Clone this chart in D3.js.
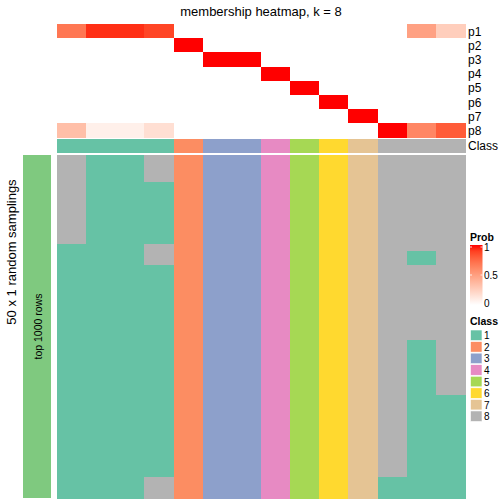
<!DOCTYPE html>
<html><head><meta charset="utf-8">
<script src="https://cdn.jsdelivr.net/npm/d3@7"></script>
<style>body{margin:0;background:#fff}svg{display:block;font-family:"Liberation Sans",Arial,sans-serif}</style>
</head><body>
<svg id="c" width="504" height="504"></svg>
<script>
// ---- data ----
const columns = d3.range(1, 15).map(i => "s" + i);
const probRows = ["p1","p2","p3","p4","p5","p6","p7","p8"];
const p1 = [0.69,0.94,0.94,0.88,0,0,0,0,0,0,0,0,0.49,0.26];
const p2 = [0,0,0,0,1,0,0,0,0,0,0,0,0,0];
const p3 = [0,0,0,0,0,1,1,0,0,0,0,0,0,0];
const p4 = [0,0,0,0,0,0,0,1,0,0,0,0,0,0];
const p5 = [0,0,0,0,0,0,0,0,1,0,0,0,0,0];
const p6 = [0,0,0,0,0,0,0,0,0,1,0,0,0,0];
const p7 = [0,0,0,0,0,0,0,0,0,0,1,0,0,0];
const p8 = [0.34,0.08,0.08,0.17,0,0,0,0,0,0,0,1,0.62,0.80];
const classOf = [1,1,1,1,2,3,3,4,5,6,7,8,8,8];
const classes = [1,2,3,4,5,6,7,8];
const classColors = ["#66C2A5","#FC8D62","#8DA0CB","#E78AC3","#A6D854","#FFD92F","#E5C494","#B3B3B3"];
// sampling runs per column: [class, number of rows], top to bottom, 50 rows total
const samplingRuns = [
  [[8,13],[1,37]],
  [[1,50]],
  [[1,50]],
  [[8,4],[1,9],[8,3],[1,31],[8,3]],
  [[2,50]],
  [[3,50]],
  [[3,50]],
  [[4,50]],
  [[5,50]],
  [[6,50]],
  [[7,50]],
  [[8,47],[1,3]],
  [[8,14],[1,2],[8,11],[1,23]],
  [[8,35],[1,15]]
];
const nSamplings = 50;
const probTicks = [0, 0.5, 1];

// ---- drawing ----
const svg = d3.select("#c");
const probData = [p1,p2,p3,p4,p5,p6,p7,p8];
const x = d3.scaleBand().domain(columns).range([57, 465]);
const yTop = d3.scaleBand().domain(probRows).range([24, 137.5]);
const yBot = d3.scaleBand().domain(d3.range(nSamplings)).range([155, 498]);
const probColor = d3.scaleLinear().domain([0,1]).range(["#ffffff","#ff0000"]).interpolate(d3.interpolateLab);
const classColor = d3.scaleOrdinal().domain(classes).range(classColors);

// title
svg.append("text").attr("x", 261).attr("y", 16).attr("text-anchor","middle")
  .attr("font-size", 13).text("membership heatmap, k = 8");

// prob rows
const probCells = [];
probRows.forEach((r, i) => columns.forEach((c, j) => probCells.push({r, c, v: probData[i][j]})));
svg.append("g").attr("shape-rendering","crispEdges").selectAll("rect").data(probCells).join("rect")
  .attr("x", d => x(d.c)).attr("y", d => yTop(d.r))
  .attr("width", x.bandwidth()+0.5).attr("height", yTop.bandwidth()+0.5)
  .attr("fill", d => probColor(d.v));
svg.append("g").selectAll("text").data(probRows).join("text")
  .attr("x", 468).attr("y", d => yTop(d) + yTop.bandwidth()/2 + 4.5)
  .attr("font-size", 12).text(d => d);

// class row
const yClass = [138.5, 152.5];
svg.append("g").attr("shape-rendering","crispEdges").selectAll("rect").data(columns).join("rect")
  .attr("x", d => x(d)).attr("y", yClass[0]).attr("width", x.bandwidth()+0.5)
  .attr("height", yClass[1]-yClass[0]).attr("fill", (d,i) => classColor(classOf[i]));
svg.append("text").attr("x", 468).attr("y", 149.5).attr("font-size", 12).text("Class");

// bottom sampling heatmap
const botCells = [];
samplingRuns.forEach((runs, j) => {
  let row = 0;
  runs.forEach(([cl, n]) => { for (let k = 0; k < n; k++) botCells.push({c: columns[j], row: row++, cl}); });
});
svg.append("g").attr("shape-rendering","crispEdges").selectAll("rect").data(botCells).join("rect")
  .attr("x", d => x(d.c)).attr("y", d => yBot(d.row))
  .attr("width", x.bandwidth()+0.5).attr("height", yBot.bandwidth()+0.5)
  .attr("fill", d => classColor(d.cl));

// left annotation
svg.append("rect").attr("shape-rendering","crispEdges").attr("x", 23).attr("y", 155).attr("width", 28).attr("height", 343).attr("fill", "#7FC97F");
svg.append("text").attr("transform", "translate(42,326.5) rotate(-90)").attr("text-anchor","middle")
  .attr("font-size", 10.5).text("top 1000 rows");
svg.append("text").attr("transform", "translate(16,252) rotate(-90)").attr("text-anchor","middle")
  .attr("font-size", 13).text("50 x 1 random samplings");

// Prob legend
const defs = svg.append("defs");
const grad = defs.append("linearGradient").attr("id","pg").attr("x1",0).attr("y1",1).attr("x2",0).attr("y2",0);
d3.range(0, 1.0001, 0.1).forEach(t => grad.append("stop").attr("offset", t).attr("stop-color", probColor(t)));
svg.append("text").attr("x", 470).attr("y", 241).attr("font-size", 10.5).attr("font-weight","bold").text("Prob");
const yLeg = d3.scaleLinear().domain([0,1]).range([303, 247]);
svg.append("rect").attr("x", 470).attr("y", 245).attr("width", 12.5).attr("height", 60).attr("fill","url(#pg)");
svg.append("g").selectAll("line").data(probTicks.filter(t => t > 0)).join("g").each(function(t){
  const g = d3.select(this);
  g.append("line").attr("x1",470).attr("x2",472).attr("y1",yLeg(t)).attr("y2",yLeg(t)).attr("stroke","#fff").attr("stroke-width",0.8);
  g.append("line").attr("x1",480.5).attr("x2",482.5).attr("y1",yLeg(t)).attr("y2",yLeg(t)).attr("stroke","#fff").attr("stroke-width",0.8);
});
svg.append("g").selectAll("text").data(probTicks).join("text")
  .attr("x", 484).attr("y", d => yLeg(d) + 4).attr("font-size", 10).text(d => d);

// Class legend
svg.append("text").attr("x", 470).attr("y", 325).attr("font-size", 10.5).attr("font-weight","bold").text("Class");
const yCl = d3.scaleBand().domain(classes).range([329.5, 422]);
svg.append("g").selectAll("rect").data(classes).join("rect")
  .attr("x", 470.5).attr("y", d => yCl(d)+0.5).attr("width", 11.5).attr("height", yCl.bandwidth()-1)
  .attr("fill", d => classColor(d)).attr("stroke", "#fff").attr("stroke-width", 0.6);
svg.append("g").selectAll("text").data(classes).join("text")
  .attr("x", 484).attr("y", d => yCl(d) + yCl.bandwidth()/2 + 4).attr("font-size", 10).text(d => d);
</script>
</body></html>
